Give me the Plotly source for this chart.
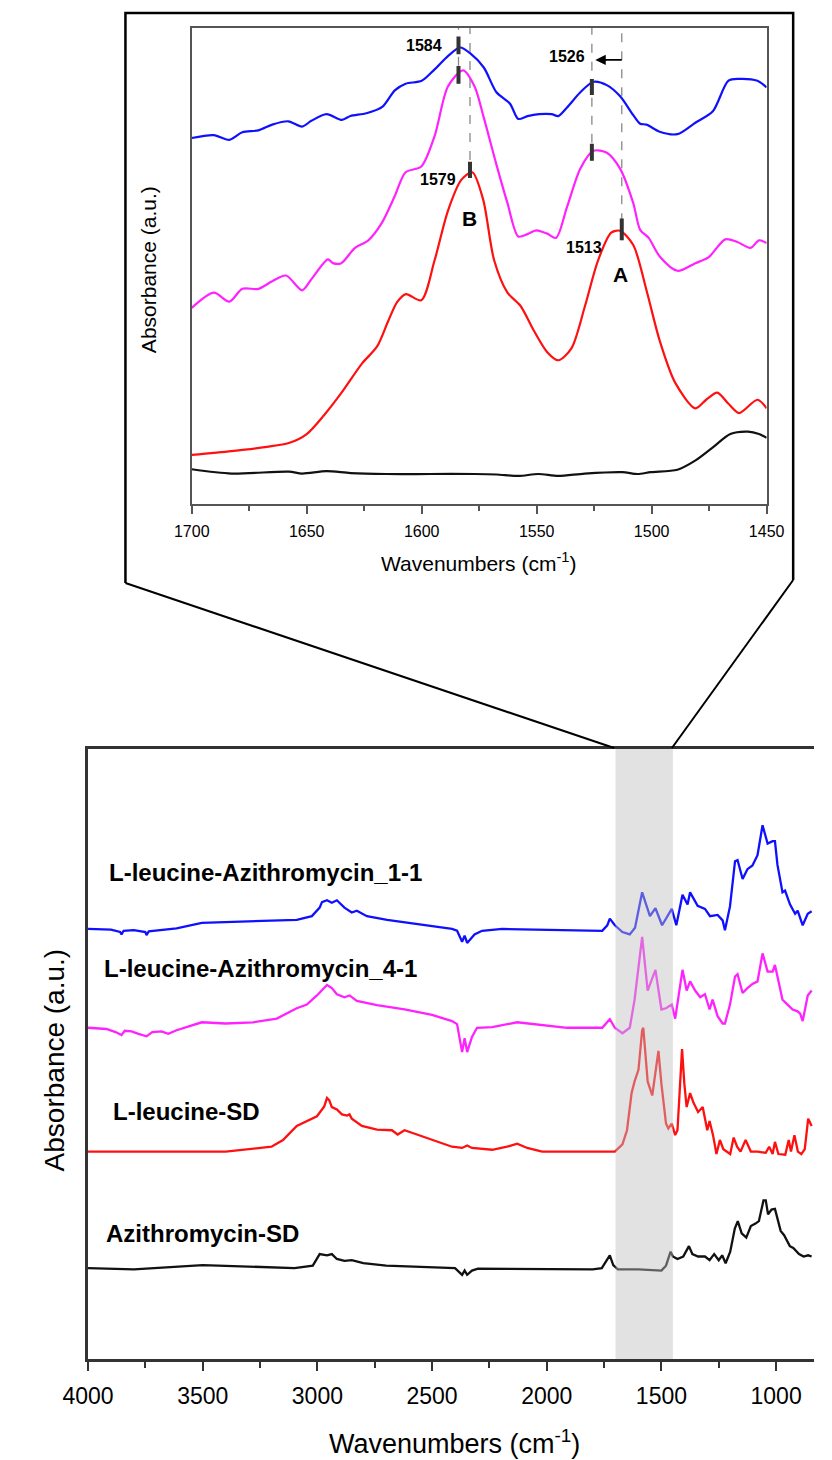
import plotly.graph_objects as go

W, H = 832, 1460
FONT = "Arial, Liberation Sans, sans-serif"

# ---------------- inset data (1700-1450 cm-1) ----------------
ins_blue_x = [1700, 1690.4, 1683.7, 1678, 1671, 1665, 1658, 1652, 1648, 1641.4, 1634.7, 1631, 1624, 1617, 1611.7, 1607, 1600, 1594.4, 1588.6, 1583.3, 1579, 1573, 1567.5, 1561.6, 1558, 1554, 1549, 1543.5, 1540.6, 1536.8, 1531, 1525.3, 1519.5, 1513.8, 1508, 1505, 1502.2, 1496.5, 1488.8, 1481, 1473.4, 1466.7, 1462, 1454, 1450]
ins_blue_y = [0.769, 0.775, 0.765, 0.781, 0.785, 0.797, 0.804, 0.793, 0.805, 0.819, 0.807, 0.815, 0.821, 0.835, 0.869, 0.883, 0.889, 0.913, 0.941, 0.959, 0.947, 0.917, 0.865, 0.841, 0.809, 0.815, 0.819, 0.819, 0.815, 0.833, 0.865, 0.887, 0.880, 0.857, 0.817, 0.799, 0.797, 0.782, 0.777, 0.801, 0.825, 0.889, 0.893, 0.889, 0.875]

ins_mag_x = [1700, 1690.4, 1683.7, 1678, 1671, 1665, 1659, 1652, 1648, 1640.8, 1638.6, 1635, 1629, 1623.2, 1617.4, 1611.7, 1607, 1600.2, 1594.4, 1588.6, 1582, 1577, 1573.3, 1567.5, 1562.7, 1558, 1554, 1550.2, 1545.4, 1541.6, 1536.8, 1531, 1525.3, 1519.5, 1513.8, 1508, 1505, 1501.3, 1496.5, 1488.8, 1481, 1475.3, 1468, 1463, 1457, 1453.3, 1450]
ins_mag_y = [0.412, 0.444, 0.425, 0.452, 0.452, 0.468, 0.480, 0.449, 0.472, 0.514, 0.506, 0.506, 0.538, 0.554, 0.590, 0.647, 0.697, 0.709, 0.773, 0.877, 0.911, 0.877, 0.817, 0.713, 0.632, 0.562, 0.567, 0.575, 0.568, 0.559, 0.624, 0.705, 0.742, 0.738, 0.705, 0.632, 0.576, 0.559, 0.520, 0.490, 0.506, 0.518, 0.556, 0.551, 0.538, 0.554, 0.548]

ins_red_x = [1700, 1682.7, 1667.4, 1657.8, 1650, 1642.4, 1634.7, 1626, 1619.4, 1614.6, 1610.7, 1606.9, 1600.2, 1594.4, 1588.6, 1582.8, 1578, 1573.3, 1568.5, 1562.7, 1557, 1551.2, 1545.4, 1540.6, 1534.9, 1529, 1523.3, 1517.6, 1513.8, 1508, 1502.2, 1496.5, 1489.8, 1481, 1476.3, 1471.5, 1466.7, 1462, 1454, 1450]
ins_red_y = [0.103, 0.111, 0.120, 0.128, 0.147, 0.187, 0.235, 0.295, 0.331, 0.384, 0.424, 0.441, 0.428, 0.512, 0.616, 0.681, 0.697, 0.640, 0.512, 0.444, 0.416, 0.364, 0.319, 0.302, 0.327, 0.416, 0.512, 0.570, 0.574, 0.544, 0.448, 0.343, 0.255, 0.201, 0.219, 0.234, 0.211, 0.191, 0.219, 0.201]

ins_blk_x = [1700, 1682.7, 1657.8, 1652, 1641.4, 1630.9, 1615.5, 1596.3, 1577.1, 1567.5, 1557.9, 1549.3, 1540.6, 1529.1, 1512.8, 1506.1, 1500.4, 1488.8, 1481.1, 1473.4, 1465.8, 1458.1, 1453.3, 1450]
ins_blk_y = [0.073, 0.064, 0.068, 0.064, 0.069, 0.065, 0.063, 0.063, 0.063, 0.062, 0.059, 0.063, 0.059, 0.064, 0.067, 0.063, 0.067, 0.072, 0.091, 0.119, 0.147, 0.152, 0.147, 0.139]

# ---------------- main data (4000-835 cm-1) ----------------
main_blue_x = [4000, 3900, 3860, 3854, 3845, 3800, 3750, 3745, 3735, 3690, 3614, 3504, 3420, 3352, 3177, 3090, 3024, 2990, 2980, 2958, 2937, 2915, 2882, 2850, 2828, 2784, 2696, 2522, 2413, 2391, 2369, 2358, 2347, 2315, 2282, 2194, 1976, 1758, 1736, 1725, 1703, 1670, 1638, 1615, 1584, 1550, 1526, 1497, 1455, 1435, 1408, 1386, 1375, 1342, 1310, 1288, 1255, 1233, 1223, 1201, 1179, 1168, 1146, 1125, 1103, 1081, 1059, 1037, 1015, 1005, 994, 972, 961, 939, 917, 906, 884, 862, 845]
main_blue_y = [0.705, 0.704, 0.700, 0.696, 0.702, 0.703, 0.700, 0.695, 0.701, 0.703, 0.706, 0.715, 0.716, 0.717, 0.719, 0.720, 0.726, 0.740, 0.749, 0.752, 0.748, 0.752, 0.740, 0.732, 0.735, 0.726, 0.720, 0.711, 0.705, 0.702, 0.684, 0.694, 0.682, 0.696, 0.702, 0.705, 0.703, 0.702, 0.711, 0.722, 0.711, 0.700, 0.696, 0.707, 0.765, 0.726, 0.739, 0.711, 0.738, 0.711, 0.761, 0.745, 0.765, 0.743, 0.738, 0.726, 0.728, 0.719, 0.703, 0.742, 0.816, 0.818, 0.787, 0.803, 0.809, 0.826, 0.875, 0.845, 0.849, 0.849, 0.810, 0.765, 0.768, 0.745, 0.730, 0.735, 0.711, 0.730, 0.734]

main_mag_x = [4000, 3920, 3880, 3854, 3840, 3810, 3780, 3745, 3720, 3680, 3650, 3614, 3504, 3400, 3280, 3177, 3090, 3046, 3002, 2958, 2937, 2915, 2882, 2860, 2828, 2740, 2620, 2500, 2413, 2391, 2369, 2358, 2347, 2326, 2304, 2238, 2129, 2020, 1911, 1758, 1736, 1725, 1703, 1670, 1638, 1617, 1584, 1560, 1526, 1500, 1480, 1455, 1440, 1408, 1390, 1375, 1353, 1331, 1310, 1290, 1277, 1255, 1233, 1223, 1201, 1179, 1168, 1146, 1125, 1103, 1081, 1059, 1037, 1015, 1005, 983, 972, 950, 928, 906, 895, 884, 862, 845]
main_mag_y = [0.543, 0.541, 0.536, 0.531, 0.538, 0.537, 0.533, 0.529, 0.536, 0.537, 0.533, 0.539, 0.552, 0.550, 0.552, 0.558, 0.575, 0.581, 0.596, 0.613, 0.608, 0.598, 0.593, 0.596, 0.587, 0.580, 0.573, 0.564, 0.554, 0.549, 0.503, 0.526, 0.503, 0.528, 0.543, 0.544, 0.552, 0.547, 0.543, 0.543, 0.552, 0.557, 0.543, 0.534, 0.543, 0.589, 0.692, 0.604, 0.638, 0.573, 0.575, 0.581, 0.558, 0.638, 0.604, 0.619, 0.604, 0.593, 0.598, 0.573, 0.589, 0.562, 0.550, 0.550, 0.581, 0.627, 0.631, 0.600, 0.608, 0.615, 0.619, 0.665, 0.635, 0.635, 0.646, 0.604, 0.589, 0.581, 0.573, 0.570, 0.566, 0.554, 0.596, 0.604]

main_red_x = [4000, 3700, 3400, 3200, 3150, 3090, 3046, 3002, 2970, 2958, 2948, 2937, 2915, 2893, 2871, 2860, 2850, 2806, 2740, 2675, 2650, 2620, 2566, 2500, 2413, 2369, 2347, 2326, 2238, 2173, 2129, 2085, 2020, 1800, 1703, 1670, 1650, 1630, 1617, 1600, 1584, 1579, 1560, 1540, 1526, 1513, 1500, 1480, 1470, 1455, 1440, 1430, 1410, 1400, 1390, 1375, 1360, 1340, 1320, 1300, 1290, 1275, 1260, 1245, 1230, 1200, 1185, 1170, 1155, 1133, 1110, 1080, 1045, 1030, 1015, 1005, 990, 960, 945, 935, 920, 905, 890, 875, 860, 845]
main_red_y = [0.340, 0.340, 0.340, 0.348, 0.359, 0.382, 0.390, 0.398, 0.414, 0.428, 0.424, 0.413, 0.409, 0.401, 0.399, 0.401, 0.394, 0.382, 0.376, 0.375, 0.368, 0.375, 0.368, 0.359, 0.348, 0.346, 0.350, 0.346, 0.343, 0.348, 0.353, 0.346, 0.340, 0.340, 0.340, 0.352, 0.375, 0.436, 0.455, 0.474, 0.539, 0.543, 0.455, 0.432, 0.470, 0.505, 0.451, 0.386, 0.378, 0.386, 0.367, 0.375, 0.508, 0.451, 0.413, 0.436, 0.420, 0.405, 0.413, 0.375, 0.390, 0.367, 0.336, 0.359, 0.344, 0.336, 0.363, 0.348, 0.340, 0.359, 0.340, 0.340, 0.338, 0.348, 0.336, 0.356, 0.336, 0.335, 0.359, 0.340, 0.367, 0.340, 0.336, 0.344, 0.394, 0.382]

main_blk_x = [4000, 3800, 3500, 3300, 3100, 3020, 2990, 2958, 2937, 2915, 2882, 2850, 2800, 2700, 2500, 2400, 2369, 2358, 2347, 2326, 2300, 2000, 1800, 1760, 1736, 1725, 1710, 1690, 1600, 1500, 1480, 1460, 1450, 1430, 1405, 1380, 1365, 1340, 1310, 1290, 1270, 1250, 1235, 1220, 1200, 1180, 1167, 1150, 1130, 1110, 1090, 1075, 1055, 1045, 1035, 1020, 1005, 995, 980, 965, 955, 940, 925, 910, 900, 880, 860, 845]
main_blk_y = [0.149, 0.147, 0.154, 0.151, 0.149, 0.153, 0.172, 0.170, 0.172, 0.164, 0.161, 0.162, 0.157, 0.153, 0.151, 0.149, 0.138, 0.145, 0.138, 0.145, 0.148, 0.147, 0.147, 0.149, 0.164, 0.170, 0.154, 0.147, 0.147, 0.145, 0.153, 0.176, 0.168, 0.164, 0.168, 0.185, 0.172, 0.168, 0.168, 0.162, 0.172, 0.162, 0.170, 0.157, 0.176, 0.214, 0.226, 0.206, 0.199, 0.218, 0.222, 0.226, 0.260, 0.260, 0.237, 0.245, 0.246, 0.233, 0.210, 0.203, 0.195, 0.185, 0.182, 0.176, 0.172, 0.168, 0.170, 0.168]

series_names = ["L-leucine-Azithromycin_1-1", "L-leucine-Azithromycin_4-1", "L-leucine-SD", "Azithromycin-SD"]
series_colors = ["#1010ff", "#ff22ff", "#ff1010", "#111111"]

main_xticks = [4000, 3500, 3000, 2500, 2000, 1500, 1000]
main_minor = [3750, 3250, 2750, 2250, 1750, 1250]
ins_xticks = [1700, 1650, 1600, 1550, 1500, 1450]
ins_minor = [1675, 1625, 1575, 1525, 1475]

# annotation positions in inset (wavenumber)
peak_marks = [  # (wn, y0, y1)
    (1584, 0.945, 0.982), (1584, 0.883, 0.920), (1579, 0.685, 0.719),
    (1526, 0.859, 0.893), (1526, 0.721, 0.757), (1513, 0.554, 0.600)]
dash_lines = [(1584, 0.883), (1579, 0.685), (1526, 0.721), (1513, 0.554)]


def px(x):
    return x / W


def py(y):
    return 1 - y / H


fig = go.Figure()

main_sets = [(main_blue_x, main_blue_y), (main_mag_x, main_mag_y), (main_red_x, main_red_y), (main_blk_x, main_blk_y)]
ins_sets = [(ins_blue_x, ins_blue_y), (ins_mag_x, ins_mag_y), (ins_red_x, ins_red_y), (ins_blk_x, ins_blk_y)]

for (xs, ys), c, n in zip(main_sets, series_colors, series_names):
    fig.add_trace(go.Scatter(x=xs, y=ys, mode="lines", line=dict(color=c, width=2.3),
                             name=n, showlegend=False, xaxis="x", yaxis="y"))
for (xs, ys), c, n in zip(ins_sets, series_colors, series_names):
    fig.add_trace(go.Scatter(x=xs, y=ys, mode="lines", line=dict(color=c, width=2.2, shape="spline", smoothing=0.8),
                             name=n, showlegend=False, xaxis="x2", yaxis="y2"))

shapes = []
# shaded band in main plot
shapes.append(dict(type="rect", xref="x", yref="y", x0=1700, x1=1450, y0=0, y1=1,
                   fillcolor="rgba(190,190,190,0.45)", line=dict(width=0), layer="above"))
# inset dashed lines
for wn, ybot in dash_lines:
    shapes.append(dict(type="line", xref="x2", yref="y2", x0=wn, x1=wn, y0=ybot, y1=1,
                       line=dict(color="#888888", width=1.3, dash="dash")))
for wn, a, b in peak_marks:
    shapes.append(dict(type="line", xref="x2", yref="y2", x0=wn, x1=wn, y0=a, y1=b,
                       line=dict(color="#333333", width=4)))
# arrow shaft 1513 -> 1526
shapes.append(dict(type="line", xref="x2", yref="y2", x0=1513, x1=1523.5, y0=0.933, y1=0.933,
                   line=dict(color="black", width=1.6)))
# outer frame around inset and connector lines
frame = f"M {px(105)} {py(583)} L {px(105)} {py(13)} L {px(810)} {py(13)} L {px(810)} {py(580)}"
shapes.append(dict(type="path", xref="paper", yref="paper", path=frame, line=dict(color="black", width=2.5)))
shapes.append(dict(type="line", xref="paper", yref="paper", x0=px(105), y0=py(583), x1=px(621), y1=py(748),
                   line=dict(color="black", width=2)))
shapes.append(dict(type="line", xref="paper", yref="paper", x0=px(810), y0=py(580), x1=px(682), y1=py(748),
                   line=dict(color="black", width=2)))

annotations = []
lbl_pos = [(85, 872), (80, 968), (90, 1111), (82, 1233)]
for n, (lx, ly) in zip(series_names, lbl_pos):
    annotations.append(dict(text=f"<b>{n}</b>", x=px(lx), y=py(ly), xref="paper", yref="paper",
                            xanchor="left", yanchor="middle", showarrow=False,
                            font=dict(family=FONT, size=24, color="black")))
# axis titles
annotations.append(dict(text="Wavenumbers (cm<sup>-1</sup>)", x=px(452), y=py(1442), xref="paper", yref="paper",
                        showarrow=False, font=dict(family=FONT, size=27, color="black"), xanchor="center", yanchor="middle"))
annotations.append(dict(text="Absorbance (a.u.)", x=px(30), y=py(1060), xref="paper", yref="paper", textangle=-90,
                        showarrow=False, font=dict(family=FONT, size=28, color="black"), xanchor="center", yanchor="middle"))
annotations.append(dict(text="Wavenumbers (cm<sup>-1</sup>)", x=px(478), y=py(562), xref="paper", yref="paper",
                        showarrow=False, font=dict(family=FONT, size=21, color="black"), xanchor="center", yanchor="middle"))
annotations.append(dict(text="Absorbance (a.u.)", x=px(130), y=py(270), xref="paper", yref="paper", textangle=-90,
                        showarrow=False, font=dict(family=FONT, size=21, color="black"), xanchor="center", yanchor="middle"))
# inset peak labels
peak_labels = [("1584", 1599.2, 0.963, 16), ("1526", 1536.8, 0.941, 16), ("1579", 1592.9, 0.682, 16),
               ("1513", 1529.5, 0.538, 16), ("B", 1579, 0.599, 21), ("A", 1513.4, 0.482, 21)]
for t, xx, yy, s in peak_labels:
    annotations.append(dict(text=f"<b>{t}</b>", x=xx, y=yy, xref="x2", yref="y2", showarrow=False,
                            font=dict(family=FONT, size=s, color="black"), xanchor="center", yanchor="middle"))

fig.update_layout(
    width=W, height=H, margin=dict(l=0, r=0, t=0, b=0),
    paper_bgcolor="white", plot_bgcolor="white", showlegend=False,
    shapes=shapes, annotations=annotations,
    xaxis=dict(domain=[px(65.5), 1.0], range=[4000, 834.7], showgrid=False, zeroline=False,
               showline=True, linecolor="#333333", linewidth=2.5, mirror=True,
               tickmode="array", tickvals=main_xticks, ticks="outside", ticklen=9, tickwidth=2, tickcolor="#333333",
               minor=dict(tickmode="array", tickvals=main_minor, ticks="outside", ticklen=6, tickwidth=2, tickcolor="#333333"),
               tickfont=dict(family=FONT, size=23, color="black"), ticklabelstandoff=6, anchor="y"),
    yaxis=dict(domain=[py(1359), py(749)], range=[0, 1], showgrid=False, zeroline=False,
               showline=True, linecolor="#333333", linewidth=2.5, showticklabels=False, ticks="", anchor="x"),
    xaxis2=dict(domain=[px(175), px(782)], range=[1700, 1450], showgrid=False, zeroline=False,
                showline=True, linecolor="#555555", linewidth=1.8, mirror=True,
                tickmode="array", tickvals=ins_xticks, ticks="outside", ticklen=8, tickwidth=1.5, tickcolor="#555555",
                minor=dict(tickmode="array", tickvals=ins_minor, ticks="outside", ticklen=5, tickwidth=1.5, tickcolor="#555555"),
                tickfont=dict(family=FONT, size=16, color="black"), ticklabelstandoff=4, anchor="y2"),
    yaxis2=dict(domain=[py(504), py(28)], range=[0, 1], showgrid=False, zeroline=False,
                showline=True, linecolor="#555555", linewidth=1.8, mirror=True,
                showticklabels=False, ticks="", anchor="x2"),
)

fig.add_annotation(x=1524.5, y=0.933, ax=1519, ay=0.933, xref="x2", yref="y2", axref="x2", ayref="y2",
                   text="", showarrow=True, arrowhead=2, arrowsize=1.3, arrowwidth=1.6, arrowcolor="black")

fig.write_html("out.html")
